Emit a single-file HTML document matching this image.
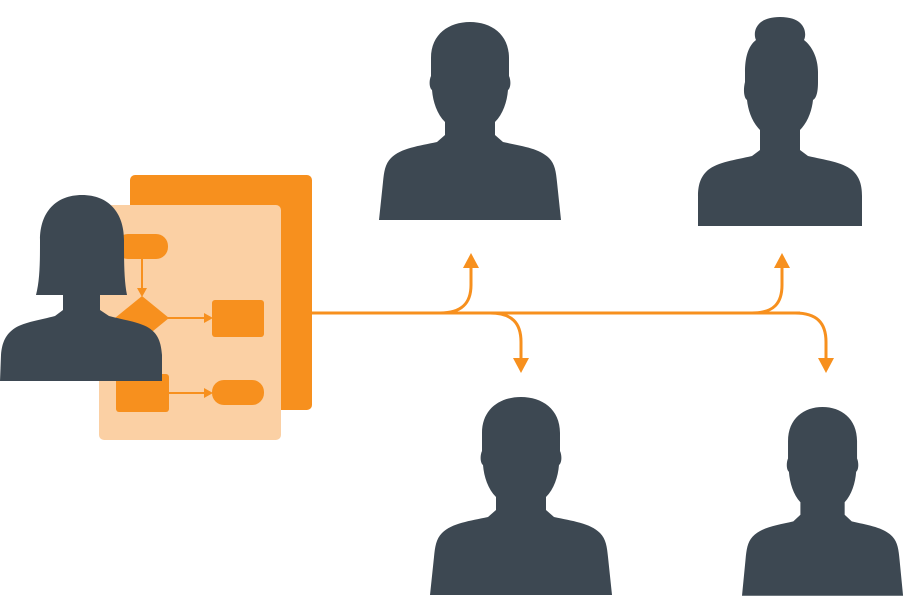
<!DOCTYPE html>
<html><head><meta charset="utf-8"><style>html,body{margin:0;padding:0;background:#fff}svg{display:block}</style></head>
<body>
<svg width="904" height="612" viewBox="0 0 904 612" xmlns="http://www.w3.org/2000/svg">
<defs>
<path id="man" d="M66,100 L66,113 L58,120 C40,124 22,126 12,136 C6,142 5,150 4,160 L0,198 L182,198 L178,160 C177,150 176,142 170,136 C160,126 142,124 124,120 L116,113 L116,100 C124,92 128,80 129,68 C132,66 132,58 130,54 L130,36 C130,12 112,0 91,0 C70,0 52,12 52,36 L52,54 C50,58 50,66 53,68 C54,80 58,92 66,100 Z"/>
</defs>
<!-- documents -->
<rect x="130" y="175" width="182" height="235" rx="5" fill="#f7901e"/>
<rect x="99" y="205" width="182" height="235" rx="5" fill="#fbd0a4"/>
<rect x="116" y="234" width="52" height="25" rx="12" fill="#f7901e"/>
<line x1="142" y1="258" x2="142" y2="290" stroke="#f7901e" stroke-width="2"/>
<polygon points="137,288 147,288 142,297" fill="#f7901e"/>
<polygon points="142,296 169,318 142,340 115,318" fill="#f7901e"/>
<line x1="168" y1="318" x2="206" y2="318" stroke="#f7901e" stroke-width="2"/>
<polygon points="204,313 213,318 204,323" fill="#f7901e"/>
<rect x="212" y="300" width="52" height="37" rx="3" fill="#f7901e"/>
<rect x="116" y="374" width="53" height="38" rx="3" fill="#f7901e"/>
<line x1="168" y1="393" x2="206" y2="393" stroke="#f7901e" stroke-width="2"/>
<polygon points="204,388 213,393 204,398" fill="#f7901e"/>
<rect x="212" y="380" width="52" height="25" rx="12" fill="#f7901e"/>
<!-- woman left -->
<path fill="#3d4852" d="M63,295 L63,310 L55,316 C40,320 25,322 15,328 C6,334 2,342 1,355 L0,381 L162,381 L162,355 C161,342 158,334 149,328 C139,322 124,320 109,316 L100,310 L100,295 L127,295 C124,280 124,260 124,240 C124,212 108,195 82,195 C56,195 40,212 40,240 C40,260 40,280 36,295 Z"/>
<!-- connectors -->
<g fill="none" stroke="#f7901e" stroke-width="3">
<path d="M312,313 L800,313"/>
<path d="M440,313 C462,313 471,303 471,285 L471,266"/>
<path d="M490,313 C512,313 521,323 521,342 L521,360"/>
<path d="M752,313 C774,313 782,303 782,285 L782,266"/>
<path d="M795,313 C817,313 826,323 826,342 L826,360"/>
</g>
<g fill="#f7901e">
<polygon points="463,268 479,268 471,253"/>
<polygon points="513,358 529,358 521,373"/>
<polygon points="774,268 790,268 782,253"/>
<polygon points="818,358 834,358 826,373"/>
</g>
<!-- men -->
<use href="#man" transform="translate(379,22)" fill="#3d4852"/>
<use href="#man" transform="translate(430,397)" fill="#3d4852"/>
<use href="#man" transform="translate(742,407) scale(0.885,0.953)" fill="#3d4852"/>
<!-- woman top right -->
<path fill="#3d4852" d="M760,130 L760,150 L752,156 C735,160 718,162 708,170 C700,177 698,186 698,196 L698,226 L862,226 L862,196 C862,186 860,177 852,170 C842,162 825,160 808,156 L800,150 L800,130 C808,122 812,110 813,100 C817,98 818,90 818,82 L818,72 C818,58 812,46 804,40 C807,34 806,17 780,17 C754,17 753,34 756,40 C748,46 745,58 745,72 L745,82 C743,90 744,98 747,100 C748,110 752,122 760,130 Z"/>
</svg>
</body></html>
